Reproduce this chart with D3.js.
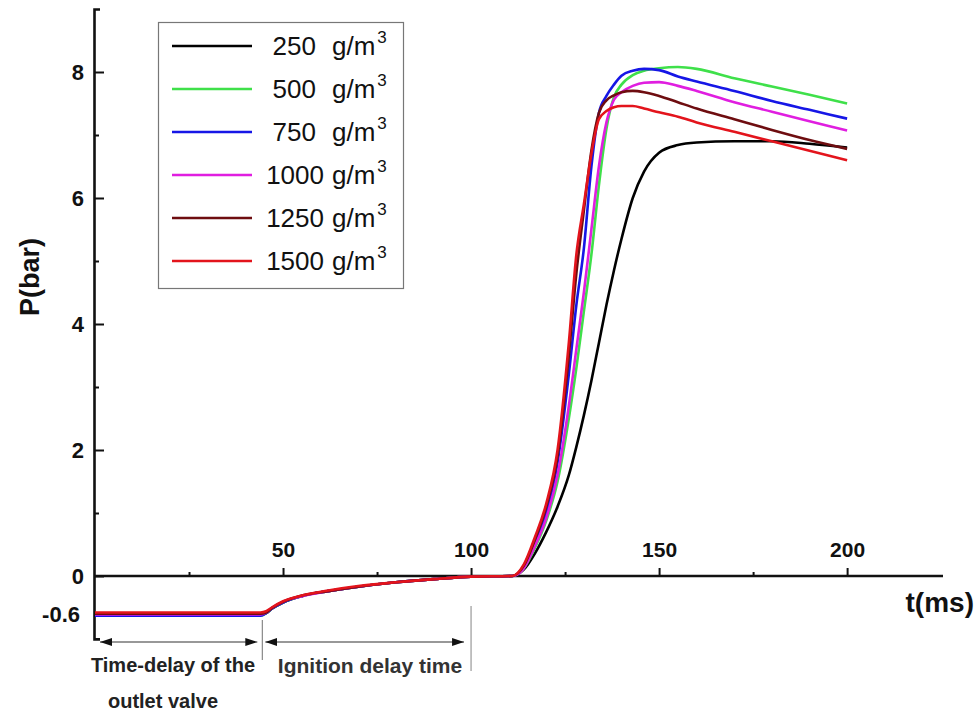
<!DOCTYPE html>
<html>
<head>
<meta charset="utf-8">
<script src="https://cdn.jsdelivr.net/npm/d3@7"></script>
<style>
  html, body { margin: 0; padding: 0; background: #fff; }
  svg { display: block; font-family: "Liberation Sans", Arial, sans-serif; }
</style>
</head>
<body>
<svg id="chart" width="976" height="713"></svg>
<script>
// ---------------- data ----------------
const times = [0, 44, 45.5, 47, 50, 55, 62, 70, 80, 90, 100, 111,
  114, 117, 120, 123, 126, 128, 130, 132, 134, 136, 138, 140,
  143, 146, 150, 155, 160, 170, 180, 190, 200];

const p250 = [-0.62, -0.62, -0.59, -0.52, -0.42, -0.32, -0.24, -0.17, -0.10, -0.05, -0.01, 0,
  0.10, 0.36, 0.70, 1.10, 1.60, 2.05, 2.55, 3.10, 3.70, 4.30, 4.85, 5.35,
  6.00, 6.42, 6.72, 6.84, 6.88, 6.90, 6.90, 6.86, 6.80];
const p500 = [-0.63, -0.63, -0.59, -0.52, -0.42, -0.32, -0.24, -0.17, -0.10, -0.05, -0.01, 0,
  0.12, 0.45, 0.88, 1.50, 2.50, 3.30, 4.20, 5.10, 6.20, 7.10, 7.60, 7.80,
  7.95, 8.02, 8.06, 8.08, 8.05, 7.90, 7.77, 7.64, 7.50];
const p750 = [-0.63, -0.63, -0.59, -0.52, -0.42, -0.32, -0.24, -0.17, -0.10, -0.05, -0.01, 0,
  0.14, 0.52, 1.00, 1.80, 3.20, 4.30, 5.20, 6.50, 7.35, 7.62, 7.80, 7.94,
  8.02, 8.05, 8.03, 7.93, 7.85, 7.70, 7.54, 7.40, 7.26];
const p1000 = [-0.61, -0.61, -0.58, -0.51, -0.41, -0.32, -0.24, -0.17, -0.10, -0.05, -0.01, 0,
  0.12, 0.48, 0.92, 1.60, 2.70, 3.60, 4.50, 5.50, 6.50, 7.20, 7.56, 7.68,
  7.78, 7.83, 7.84, 7.78, 7.70, 7.52, 7.37, 7.22, 7.07];
const p1250 = [-0.60, -0.60, -0.58, -0.51, -0.41, -0.31, -0.24, -0.17, -0.10, -0.05, -0.01, 0,
  0.16, 0.58, 1.10, 1.90, 3.50, 4.80, 5.80, 6.75, 7.35, 7.55, 7.63, 7.68,
  7.70, 7.68, 7.62, 7.52, 7.42, 7.25, 7.08, 6.92, 6.78];
const p1500 = [-0.58, -0.58, -0.56, -0.50, -0.40, -0.31, -0.23, -0.16, -0.10, -0.05, -0.01, 0,
  0.18, 0.62, 1.15, 2.00, 3.70, 5.10, 5.90, 6.70, 7.25, 7.38, 7.44, 7.46,
  7.46, 7.42, 7.36, 7.29, 7.20, 7.05, 6.90, 6.75, 6.60];

const concentrations = [250, 500, 750, 1000, 1250, 1500];
const seriesValues = [p250, p500, p750, p1000, p1250, p1500];
const colors = ["#000000", "#3fe04a", "#1616e6", "#e01ee0", "#6e0d10", "#e3141c"];

const yMajorTicks = [0, 2, 4, 6, 8];
const yMinorTicks = [1, 3, 5, 7];
const xMajorTicks = [50, 100, 150, 200];
const xMinorTicks = [25, 75, 125, 175];
const outletDelayEnd = 44.5;   // ms
const ignitionEnd = 100;       // ms

// ---------------- layout ----------------
const svg = d3.select("#chart");
const x = d3.scaleLinear().domain([0, 225.5]).range([95, 943]);
const y = d3.scaleLinear().domain([-1, 9]).range([639, 9]);
const axisX = 94;

// Y axis (ticks inward, labels left)
const yAx = svg.append("g").attr("transform", `translate(${axisX},0)`)
  .call(d3.axisLeft(y).tickValues(yMajorTicks).tickSizeInner(-10).tickSizeOuter(-6)
    .tickPadding(10).tickFormat(d3.format("d")));
yAx.select(".domain").attr("stroke", "#111").attr("stroke-width", 2.6);
yAx.selectAll(".tick line").attr("stroke", "#111").attr("stroke-width", 2);
yAx.selectAll(".tick text").attr("font-size", 22).attr("font-weight", "bold")
  .attr("fill", "#111").attr("font-family", "Liberation Sans, Arial, sans-serif");

const yMin = svg.append("g").attr("transform", `translate(${axisX},0)`)
  .call(d3.axisLeft(y).tickValues(yMinorTicks).tickSizeInner(-5).tickSizeOuter(0).tickFormat(""));
yMin.select(".domain").remove();
yMin.selectAll(".tick line").attr("stroke", "#111").attr("stroke-width", 2);

svg.append("text").attr("x", 80).attr("y", y(-0.6)).attr("dy", "0.35em")
  .attr("text-anchor", "end").attr("font-size", 22).attr("font-weight", "bold")
  .attr("fill", "#111").text("-0.6");

// X axis at y = 0 (ticks up, labels above)
const xAx = svg.append("g").attr("transform", `translate(0,${y(0)})`)
  .call(d3.axisTop(x).tickValues(xMajorTicks).tickSizeInner(8).tickSizeOuter(0)
    .tickPadding(11).tickFormat(d3.format("d")));
xAx.select(".domain").attr("d", `M${axisX},0H${x(225.5)}`)
  .attr("stroke", "#111").attr("stroke-width", 2.6);
xAx.selectAll(".tick line").attr("stroke", "#111").attr("stroke-width", 2);
xAx.selectAll(".tick text").attr("font-size", 21).attr("font-weight", "bold")
  .attr("fill", "#111").attr("font-family", "Liberation Sans, Arial, sans-serif");

const xMin = svg.append("g").attr("transform", `translate(0,${y(0)})`)
  .call(d3.axisTop(x).tickValues(xMinorTicks).tickSizeInner(4).tickSizeOuter(0).tickFormat(""));
xMin.select(".domain").remove();
xMin.selectAll(".tick line").attr("stroke", "#111").attr("stroke-width", 2);

// Axis titles
svg.append("text").attr("transform", "translate(39,277) rotate(-90)")
  .attr("text-anchor", "middle").attr("font-size", 27).attr("font-weight", "bold")
  .attr("fill", "#111").text("P(bar)");
svg.append("text").attr("x", 974).attr("y", 612).attr("text-anchor", "end")
  .attr("font-size", 28).attr("font-weight", "bold").attr("fill", "#111").text("t(ms)");

// ---------------- curves ----------------
const line = d3.line().x((d, i) => x(times[i])).y(d => y(d)).curve(d3.curveMonotoneX);
svg.append("g").selectAll("path").data(seriesValues).join("path")
  .attr("d", d => line(d))
  .attr("fill", "none")
  .attr("stroke", (d, i) => colors[i])
  .attr("stroke-width", 2.6)
  .attr("stroke-linejoin", "round");

// ---------------- legend ----------------
const lg = svg.append("g");
lg.append("rect").attr("x", 158.5).attr("y", 22.5).attr("width", 245).attr("height", 266)
  .attr("fill", "#fff").attr("stroke", "#777").attr("stroke-width", 1.2);
concentrations.forEach((c, i) => {
  const yy = 46 + i * 43;
  lg.append("line").attr("x1", 172).attr("x2", 252).attr("y1", yy).attr("y2", yy)
    .attr("stroke", colors[i]).attr("stroke-width", 2.6);
  const big = String(c).length > 3;
  lg.append("text").attr("x", big ? 324 : 316).attr("y", yy).attr("dy", "0.36em")
    .attr("text-anchor", "end").attr("font-size", 26).attr("fill", "#111").text(c);
  const t = lg.append("text").attr("x", 332).attr("y", yy).attr("dy", "0.36em")
    .attr("font-size", 26).attr("fill", "#111");
  t.append("tspan").text("g/m");
  t.append("tspan").attr("dy", "-0.75em").attr("dx", "2").attr("font-size", 17).text("3");
});

// ---------------- annotations ----------------
const ann = svg.append("g");
const arrowY = 642;
const defs = svg.append("defs");
defs.append("marker").attr("id", "ah").attr("viewBox", "0 0 12 8")
  .attr("refX", 12).attr("refY", 4).attr("markerWidth", 12).attr("markerHeight", 8)
  .attr("markerUnits", "userSpaceOnUse").attr("orient", "auto-start-reverse")
  .append("path").attr("d", "M0,0L12,4L0,8Z").attr("fill", "#111");

ann.append("line").attr("x1", axisX).attr("x2", axisX + 6).attr("y1", 639).attr("y2", 639)
  .attr("stroke", "#111").attr("stroke-width", 2);
ann.append("line").attr("x1", x(0) + 5).attr("x2", x(outletDelayEnd) - 5)
  .attr("y1", arrowY).attr("y2", arrowY).attr("stroke", "#333").attr("stroke-width", 1.2)
  .attr("marker-start", "url(#ah)").attr("marker-end", "url(#ah)");
ann.append("line").attr("x1", x(outletDelayEnd) + 3).attr("x2", x(ignitionEnd) - 7)
  .attr("y1", arrowY).attr("y2", arrowY).attr("stroke", "#333").attr("stroke-width", 1.2)
  .attr("marker-start", "url(#ah)").attr("marker-end", "url(#ah)");
ann.append("line").attr("x1", x(outletDelayEnd)).attr("x2", x(outletDelayEnd))
  .attr("y1", 620).attr("y2", 660).attr("stroke", "#888").attr("stroke-width", 1.2);
ann.append("line").attr("x1", x(ignitionEnd)).attr("x2", x(ignitionEnd))
  .attr("y1", 606).attr("y2", 671).attr("stroke", "#999").attr("stroke-width", 1.2);

ann.append("text").attr("x", 173).attr("y", 672).attr("text-anchor", "middle")
  .attr("font-size", 20).attr("font-weight", "bold").attr("fill", "#222").text("Time-delay of the");
ann.append("text").attr("x", 163).attr("y", 708).attr("text-anchor", "middle")
  .attr("font-size", 20).attr("font-weight", "bold").attr("fill", "#222").text("outlet valve");
ann.append("text").attr("x", 370).attr("y", 673).attr("text-anchor", "middle")
  .attr("font-size", 21).attr("font-weight", "bold").attr("fill", "#333").text("Ignition delay time");
</script>
</body>
</html>
